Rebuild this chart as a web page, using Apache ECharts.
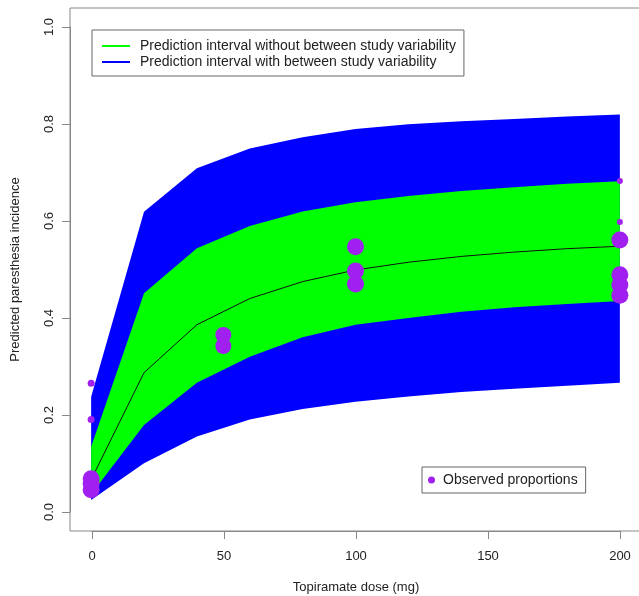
<!DOCTYPE html>
<html>
<head>
<meta charset="utf-8">
<script src="https://cdn.jsdelivr.net/npm/echarts@6/dist/echarts.min.js"></script>
<style>
  html, body { margin: 0; padding: 0; background: #fff; }
  #chart { width: 639px; height: 596px; }
</style>
</head>
<body>
<div id="chart"></div>
<script>
// dose grid of the model prediction
var dose = [0, 20, 40, 60, 80, 100, 120, 140, 160, 180, 200];
// prediction interval with between study variability (blue)
var blueUpper = [0.237, 0.619, 0.709, 0.750, 0.773, 0.790, 0.800, 0.806, 0.811, 0.816, 0.820];
var blueLower = [0.024, 0.100, 0.155, 0.190, 0.212, 0.227, 0.238, 0.247, 0.254, 0.260, 0.266];
// prediction interval without between study variability (green)
var greenUpper = [0.134, 0.451, 0.544, 0.590, 0.620, 0.639, 0.652, 0.662, 0.670, 0.677, 0.682];
var greenLower = [0.036, 0.179, 0.266, 0.320, 0.360, 0.386, 0.400, 0.413, 0.422, 0.429, 0.435];
// median prediction
var median = [0.066, 0.287, 0.386, 0.440, 0.475, 0.499, 0.515, 0.527, 0.536, 0.543, 0.548];
// observed proportions
var obsDose = [0, 0, 0, 0, 0, 50, 50, 100, 100, 100, 200, 200, 200, 200, 200, 200];
var obsProp = [0.265, 0.190, 0.068, 0.058, 0.045, 0.365, 0.342, 0.547, 0.497, 0.470, 0.683, 0.598, 0.561, 0.489, 0.468, 0.447];
var obsSize = [7, 7, 17, 17, 17, 16, 16, 17, 17, 17, 6, 6, 17, 17, 17, 17];

var nameWith = 'Prediction interval with between study variability';
var nameWithout = 'Prediction interval without between study variability';
var nameObs = 'Observed proportions';

function band(upper, lower) {
  return function (params, api) {
    var pts = [];
    for (var i = 0; i < dose.length; i++) pts.push(api.coord([dose[i], upper[i]]));
    for (var j = dose.length - 1; j >= 0; j--) pts.push(api.coord([dose[j], lower[j]]));
    return { type: 'polygon', shape: { points: pts }, style: { fill: api.visual('color') } };
  };
}

var chart = echarts.init(document.getElementById('chart'));
var font = 'Liberation Sans, Arial, sans-serif';

var option = {
  animation: false,
  textStyle: { fontFamily: font },
  grid: [
    { left: 70, width: 571, top: 8, height: 523, show: true, borderColor: '#888', borderWidth: 1,
      backgroundColor: 'transparent', containLabel: false, outerBoundsMode: 'none' },
    { left: 92, width: 528, top: 27, height: 485, containLabel: false, outerBoundsMode: 'none' }
  ],
  xAxis: [
    { gridIndex: 0, type: 'value', min: -8, max: 208, show: false },
    {
      gridIndex: 1, type: 'value', min: 0, max: 200, interval: 50, offset: 19,
      name: 'Topiramate dose (mg)', nameLocation: 'middle', nameGap: 50,
      nameTextStyle: { fontSize: 13, color: '#222', fontFamily: font },
      axisLine: { onZero: false, lineStyle: { color: '#888' } },
      axisTick: { length: 8, lineStyle: { color: '#888' } },
      axisLabel: { fontSize: 13, color: '#222', margin: 19, fontFamily: font, showMinLabel: true, showMaxLabel: true },
      splitLine: { show: false }
    }
  ],
  yAxis: [
    { gridIndex: 0, type: 'value', min: -0.04, max: 1.04, show: false },
    {
      gridIndex: 1, type: 'value', min: 0, max: 1, interval: 0.2, offset: 22,
      name: 'Predicted paresthesia incidence', nameLocation: 'middle', nameGap: 48,
      nameTextStyle: { fontSize: 13, color: '#222', fontFamily: font },
      axisLine: { show: true, onZero: false, lineStyle: { color: '#888' } },
      axisTick: { show: true, length: 8, lineStyle: { color: '#888' } },
      axisLabel: { fontSize: 13, color: '#222', rotate: 90, margin: 14, fontFamily: font,
        formatter: function (v) { return v.toFixed(1); } },
      splitLine: { show: false }
    }
  ],
  legend: [
    {
      left: 92, top: 30, orient: 'vertical', selectedMode: false,
      borderColor: '#666', borderWidth: 1, padding: [9, 8, 7, 10], itemGap: 2,
      itemWidth: 28, itemHeight: 2,
      textStyle: { fontSize: 14, color: '#222', fontFamily: font, padding: [0, 0, 0, 5] },
      data: [
        { name: nameWithout, icon: 'rect', itemStyle: { color: '#00FF00' } },
        { name: nameWith, icon: 'rect', itemStyle: { color: '#0000FF' } }
      ]
    },
    {
      left: 422, top: 467, selectedMode: false,
      borderColor: '#666', borderWidth: 1, padding: [6, 8, 6, 6],
      itemWidth: 7, itemHeight: 7,
      textStyle: { fontSize: 14, color: '#222', fontFamily: font, padding: [0, 0, 0, 3] },
      data: [{ name: nameObs, icon: 'circle', itemStyle: { color: '#A020F0' } }]
    }
  ],
  series: [
    {
      name: nameWith, type: 'custom', xAxisIndex: 0, yAxisIndex: 0,
      itemStyle: { color: '#0000FF' }, data: [[0, 0]], renderItem: band(blueUpper, blueLower), z: 1
    },
    {
      name: nameWithout, type: 'custom', xAxisIndex: 0, yAxisIndex: 0,
      itemStyle: { color: '#00FF00' }, data: [[0, 0]], renderItem: band(greenUpper, greenLower), z: 2
    },
    {
      name: 'median', type: 'line', xAxisIndex: 0, yAxisIndex: 0, z: 3,
      data: dose.map(function (d, i) { return [d, median[i]]; }),
      showSymbol: false, lineStyle: { color: '#111', width: 1 }
    },
    {
      name: nameObs, type: 'scatter', xAxisIndex: 0, yAxisIndex: 0, z: 4,
      itemStyle: { color: '#A020F0', opacity: 1 },
      data: obsDose.map(function (d, i) { return { value: [d, obsProp[i]], symbolSize: obsSize[i] }; })
    }
  ]
};
chart.setOption(option);
</script>
</body>
</html>
